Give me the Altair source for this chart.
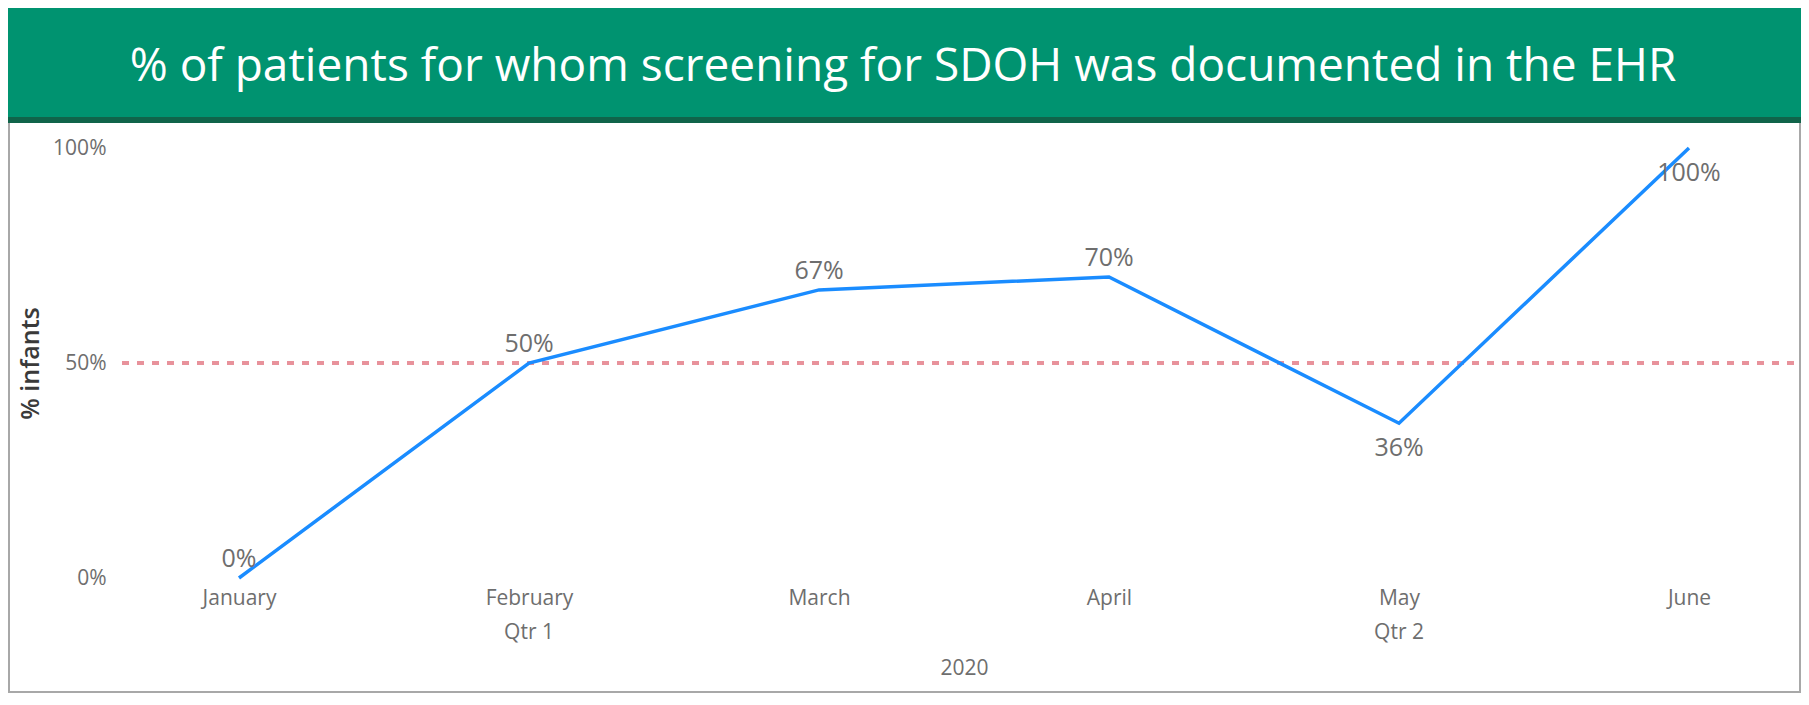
import altair as alt
import pandas as pd

# ---- data ----
months = ["January", "February", "March", "April", "May", "June"]
values = [0, 50, 67, 70, 36, 100]
labels_below = ["May", "June"]
quarter_names = ["Qtr 1", "Qtr 2"]
quarter_months = ["February", "May"]
year_label = "2020"
target_value = 50
y_ticks = [0, 50, 100]
title_text = "% of patients for whom screening for SDOH was documented in the EHR"
y_title = "% infants"

df = pd.DataFrame({"month": months, "value": values})
df["label"] = [f"{v}%" for v in values]
qdf = pd.DataFrame({"month": quarter_months, "q": quarter_names})

W, H = 1668, 430
FONT = "Open Sans"
GREY = "#6e6e6e"

xscale = alt.Scale(domain=months, range=[117, 1567], padding=0)
yscale = alt.Scale(domain=[0, 100], nice=False)

one = alt.Data(values=[{"t": title_text}])

frame = alt.Chart(one).mark_rect(fill="white", stroke="#a8a8a8", strokeWidth=2).encode(
    x=alt.value(-113), x2=alt.value(1678), y=alt.value(-28), y2=alt.value(544)
)
banner = alt.Chart(one).mark_rect(fill="#009370").encode(
    x=alt.value(-114), x2=alt.value(1679), y=alt.value(-140), y2=alt.value(-30)
)
banner_edge = alt.Chart(one).mark_rect(fill="#10644a").encode(
    x=alt.value(-114), x2=alt.value(1679), y=alt.value(-31), y2=alt.value(-25)
)
banner_text = alt.Chart(one).mark_text(
    font=FONT, fontSize=46, color="white", align="center", baseline="alphabetic"
).encode(x=alt.value(781), y=alt.value(-67), text="t:N")

target = alt.Chart(one).mark_rule(
    color="#e8929b", strokeWidth=4, strokeDash=[7, 8]
).encode(y=alt.datum(target_value, scale=yscale), x=alt.value(0), x2=alt.value(1678))

line = alt.Chart(df).mark_line(color="#1a8cff", strokeWidth=3.5).encode(
    x=alt.X("month:O", scale=xscale, sort=months,
            axis=alt.Axis(title=year_label, labelAngle=0, domain=False, ticks=False,
                          labelFont=FONT, labelFontSize=21, labelColor=GREY,
                          labelPadding=9, titleFont=FONT, titleFontSize=21,
                          titleColor=GREY, titleFontWeight="normal",
                          titleX=842, titleY=90, titleBaseline="middle", zindex=1)),
    y=alt.Y("value:Q", scale=yscale,
            axis=alt.Axis(title=y_title, values=y_ticks, labelExpr="datum.value + '%'",
                          domain=False, ticks=False, grid=False,
                          labelFont=FONT, labelFontSize=21, labelColor=GREY,
                          labelPadding=16, titleFont=FONT, titleFontSize=25,
                          titleColor="#3a3a3a", titleFontWeight=600,
                          titleX=-92, titleY=215, titleAlign="center",
                          titleBaseline="middle", zindex=1)),
)

lab_above = alt.Chart(df).transform_filter(
    alt.FieldOneOfPredicate(field="month", oneOf=[m for m in months if m not in labels_below])
).mark_text(font=FONT, fontSize=25, color=GREY, baseline="alphabetic", dy=-11).encode(
    x=alt.X("month:O", scale=xscale, sort=months), y=alt.Y("value:Q", scale=yscale), text="label:N"
)
lab_below = alt.Chart(df).transform_filter(
    alt.FieldOneOfPredicate(field="month", oneOf=labels_below)
).mark_text(font=FONT, fontSize=25, color=GREY, baseline="top", dy=13).encode(
    x=alt.X("month:O", scale=xscale, sort=months), y=alt.Y("value:Q", scale=yscale), text="label:N"
)

qtext = alt.Chart(qdf).mark_text(font=FONT, fontSize=21, color=GREY, baseline="middle").encode(
    x=alt.X("month:O", scale=xscale, sort=months), y=alt.value(485), text="q:N"
)

chart = alt.layer(
    frame, banner, banner_edge, banner_text, target, line, lab_above, lab_below, qtext
).properties(
    width=W, height=H,
    padding={"left": 114, "top": 140, "right": 11, "bottom": 115},
    autosize=alt.AutoSizeParams(type="none"),
    background="white",
).configure_view(stroke=None)

chart.save("out.html", embed_options={"renderer": "svg", "actions": False})
